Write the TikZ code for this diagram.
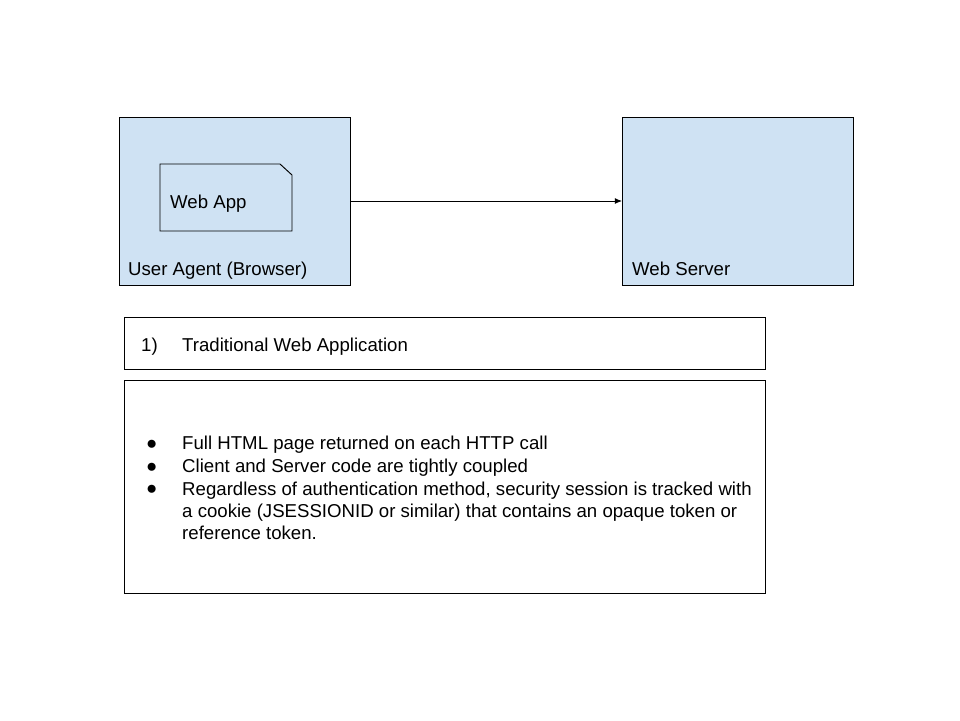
\documentclass[tikz,border=0pt]{standalone}
\usepackage{fontspec}
\setmainfont{Liberation Sans}
\usetikzlibrary{arrows.meta}
\definecolor{paleblue}{HTML}{CFE2F3}

\begin{document}
\begin{tikzpicture}[x=0.03cm,y=-0.03cm,font=\fontsize{15.9}{18.7}\selectfont,
  tier/.style={draw,line width=0.75pt,fill=paleblue,inner sep=0pt,outer sep=0pt,minimum width=6.93cm,minimum height=5.04cm},
  appbox/.style={inner sep=0pt,outer sep=0pt,minimum width=3.96cm,minimum height=2.01cm},
  panel/.style={draw,line width=0.75pt,inner sep=0pt,minimum width=19.23cm},
  label/.style={anchor=base west,inner sep=0pt}]
\useasboundingbox (0,0) rectangle (960,720);
\node[tier](agent)at(234.5,201){};
\node[tier](server)at(737.5,201){};
\node[appbox](webapp)at(226,197.5){};
% folded corner
\draw[line width=0.8pt](webapp.north west)--([xshift=-0.36cm]webapp.north east)--([yshift=-0.33cm]webapp.north east)--(webapp.south east)--(webapp.south west)--cycle;
\node[label](appname)at(170,208){Web App};
\node[label](agentname)at(128,275){User Agent (Browser)};
\node[label](servername)at(632,275){Web Server};
\draw[line width=0.75pt,-{Latex[length=6pt,width=5pt]}](agent.east)--(server.west);
\node[panel,minimum height=1.56cm](title)at(444.5,343){};
\node[label](num)at(141,351){1)};
\node[label](heading)at(182,351){Traditional Web Application};
\node[panel,minimum height=6.39cm](notes)at(444.5,486.5){};
\foreach \y/\n in {449.5/a,472/b,494/c}
  \node[label](dot\n)at(146,\y){●};
\node[label](itema)at(182,449.5){Full HTML page returned on each HTTP call};
\node[label](itemb)at(182,472){Client and Server code are tightly coupled};
\node[label,anchor=north west,align=left](itemc)at(182,481.5){Regardless of authentication method, security session is tracked with\\a cookie (JSESSIONID or similar) that contains an opaque token or\\reference token.};
\end{tikzpicture}
\end{document}
